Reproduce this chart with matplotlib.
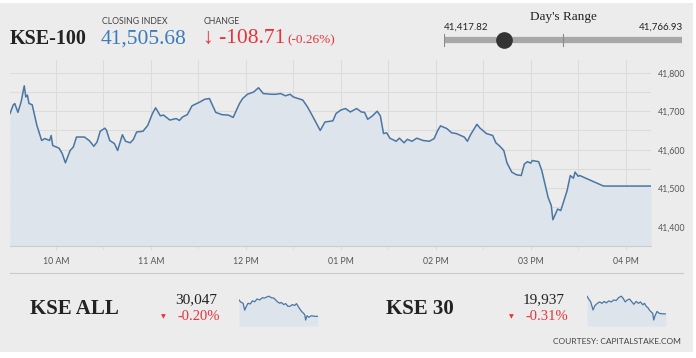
import matplotlib
matplotlib.use("Agg")
import matplotlib.pyplot as plt
import matplotlib.dates as mdates
import pandas as pd
from matplotlib.patches import Rectangle
from matplotlib.lines import Line2D

# KSE-100 intraday
kse100_times = [
    "09:31", "09:33", "09:34", "09:36", "09:38", "09:40", "09:41", "09:42", "09:43", "09:45",
    "09:48", "09:51", "09:53", "09:56", "09:57", "09:58", "10:02", "10:04", "10:06", "10:09",
    "10:11", "10:13", "10:18", "10:21", "10:24", "10:26", "10:28", "10:31", "10:32", "10:34",
    "10:37", "10:39", "10:42", "10:44", "10:47", "10:49", "10:51", "10:55", "10:58", "11:01",
    "11:03", "11:06", "11:08", "11:12", "11:16", "11:18", "11:20", "11:23", "11:26", "11:29",
    "11:31", "11:34", "11:37", "11:41", "11:45", "11:49", "11:52", "11:56", "11:58", "12:01",
    "12:05", "12:08", "12:11", "12:16", "12:19", "12:22", "12:25", "12:28", "12:30", "12:36",
    "12:39", "12:43", "12:47", "12:50", "12:55", "12:57", "13:00", "13:03", "13:06", "13:10",
    "13:13", "13:15", "13:17", "13:20", "13:23", "13:25", "13:27", "13:29", "13:31", "13:35",
    "13:37", "13:40", "13:42", "13:45", "13:48", "13:52", "13:56", "13:59", "14:01", "14:03",
    "14:07", "14:10", "14:13", "14:18", "14:20", "14:22", "14:26", "14:28", "14:32", "14:36",
    "14:38", "14:40", "14:43", "14:45", "14:48", "14:51", "14:54", "14:56", "14:58", "15:00",
    "15:01", "15:05", "15:07", "15:09", "15:11", "15:13", "15:14", "15:17", "15:19", "15:21",
    "15:23", "15:25", "15:27", "15:28", "15:30", "15:31", "15:46", "16:16",
]
kse100_values = [
    41694, 41716, 41720, 41697, 41724, 41766, 41737, 41742, 41720, 41717,
    41663, 41624, 41629, 41624, 41637, 41611, 41604, 41590, 41566, 41598,
    41607, 41633, 41633, 41624, 41609, 41620, 41648, 41656, 41650, 41624,
    41616, 41598, 41639, 41622, 41618, 41627, 41646, 41648, 41663, 41694,
    41709, 41688, 41690, 41677, 41681, 41676, 41685, 41691, 41714, 41720,
    41724, 41731, 41733, 41697, 41691, 41690, 41684, 41720, 41733, 41744,
    41750, 41761, 41746, 41744, 41744, 41746, 41740, 41744, 41737, 41729,
    41711, 41681, 41650, 41672, 41675, 41694, 41703, 41707, 41698, 41707,
    41698, 41697, 41679, 41688, 41700, 41688, 41642, 41644, 41630, 41622,
    41630, 41618, 41627, 41622, 41630, 41624, 41622, 41629, 41648, 41662,
    41655, 41644, 41642, 41633, 41622, 41639, 41666, 41656, 41642, 41637,
    41618, 41611, 41598, 41566, 41542, 41535, 41533, 41563, 41569, 41565,
    41572, 41569, 41546, 41511, 41476, 41455, 41418, 41446, 41442, 41468,
    41494, 41533, 41526, 41542, 41531, 41533, 41505.68, 41505.68,
]

closing = 41505.68
change = -108.71
change_pct = -0.26
day_low = 41417.82
day_high = 41766.93

# sparklines: minutes after 09:00
kse_all_minutes = [33, 40, 54, 62, 71, 79, 91, 101, 113, 125, 139, 152, 164, 173, 186, 198, 210,
                   220, 229, 241, 249, 261, 271, 283, 295, 305, 317, 326, 334, 343, 351, 360,
                   368, 373, 380, 390, 402, 419, 436]
kse_all_values = [30100, 30094, 30089, 30067, 30080, 30089, 30087, 30097, 30094, 30103, 30100,
                  30107, 30106, 30109, 30112, 30107, 30106, 30100, 30094, 30089, 30092, 30085,
                  30088, 30079, 30080, 30085, 30082, 30088, 30080, 30071, 30064, 30058, 30053,
                  30035, 30049, 30044, 30049, 30047, 30047]
kse30_minutes = [31, 40, 50, 62, 71, 84, 96, 108, 118, 130, 142, 156, 167, 181, 193, 207, 217,
                 227, 237, 249, 261, 271, 283, 295, 305, 317, 326, 334, 343, 351, 360, 368,
                 373, 380, 390, 402, 419, 436]
kse30_values = [19974, 19968, 19962, 19945, 19954, 19959, 19962, 19959, 19963, 19960, 19964,
                19962, 19966, 19965, 19971, 19974, 19969, 19962, 19966, 19968, 19962, 19957,
                19963, 19959, 19962, 19956, 19959, 19953, 19950, 19945, 19941, 19938, 19924,
                19933, 19942, 19938, 19937, 19937]

summary = [
    ("KSE ALL", "30,047", "-0.20%", kse_all_minutes, kse_all_values),
    ("KSE 30", "19,937", "-0.31%", kse30_minutes, kse30_values),
]

W, H = 696, 358
BG = "#ececec"
LINE = "#4a76a3"
FILL = "#dde4ec"
GRID = "#dcdcdc"
RED = "#e5333a"
BLUE = "#3b7abb"
DARK = "#222222"
SERIF = ["Liberation Serif", "DejaVu Sans"]
SANS = ["Lato", "DejaVu Sans"]

fig = plt.figure(figsize=(W / 100, H / 100), dpi=100, facecolor="white")


def px(x, y):
    return x / W, 1 - y / H


def txt(x, y, s, **kw):
    fx, fy = px(x, y)
    fig.text(fx, fy, s, **kw)


fig.patches.append(Rectangle(px(0, 352), 693 / W, 349 / H, transform=fig.transFigure,
                             facecolor=BG, edgecolor="none", zorder=-10))

# header
txt(10, 39, "KSE-100", family=SERIF, fontsize=14.5, fontweight="bold", color=DARK, va="center")
txt(102, 21, "CLOSING INDEX", family=SANS, fontsize=6.3, color="#444444", va="center")
txt(101, 39, f"{closing:,.2f}", family=SERIF, fontsize=15.5, color=BLUE, va="center")
txt(204, 21, "CHANGE", family=SANS, fontsize=6.3, color="#444444", va="center")
txt(203, 39, f"\u2193 {change:,.2f}", family=SERIF, fontsize=15.5, color=RED, va="center")
txt(287, 40, f"({change_pct:.2f}%)", family=SERIF, fontsize=9.5, color=RED, va="center")

# day's range
txt(563, 17, "Day's Range", family=SERIF, fontsize=9.5, color=DARK, ha="center", va="center")
txt(444, 27, f"{day_low:,.2f}", family=SANS, fontsize=7, color=DARK, va="center")
txt(683, 27, f"{day_high:,.2f}", family=SANS, fontsize=7, color=DARK, va="center", ha="right")
rng = fig.add_axes([444 / W, 1 - 48 / H, 238 / W, 16 / H])
rng.set_xlim(day_low, day_high)
rng.set_ylim(-1, 1)
rng.axis("off")
rng.plot([day_low, day_high], [0, 0], color="#a8a8a8", lw=4.5, solid_capstyle="butt")
for v in [day_low, (day_low + day_high) / 2, day_high]:
    rng.plot([v, v], [-0.75, 0.75], color="#8a8a8a", lw=0.8)
rng.plot([closing], [0], "o", color="#333333", ms=11)

# main chart
ax = fig.add_axes([10 / W, 1 - 246 / H, 641 / W, 186 / H])
ax.set_facecolor(BG)
t = pd.to_datetime(["2018-01-01 " + s for s in kse100_times])
ymin, ymax = 41350, 41833
ax.fill_between(t, kse100_values, ymin, color=FILL, lw=0)
ax.plot(t, kse100_values, color=LINE, lw=1.1)
ax.set_xlim(t[0], t[-1])
ax.set_ylim(ymin, ymax)
ax.yaxis.tick_right()
ax.set_yticks(range(41400, 41801, 100))
ax.set_yticks(range(41350, 41801, 50), minor=True)
ax.yaxis.set_major_formatter(matplotlib.ticker.FuncFormatter(lambda v, p: f"{v:,.0f}"))
ax.xaxis.set_major_locator(mdates.HourLocator(byhour=range(10, 17)))
ax.xaxis.set_minor_locator(mdates.MinuteLocator(byminute=[30]))
ax.xaxis.set_major_formatter(mdates.DateFormatter("%I %p"))
ax.grid(True, which="both", color=GRID, lw=0.8)
ax.set_axisbelow(True)
ax.tick_params(axis="y", which="both", length=0, pad=5, labelsize=6.3, labelcolor="#555555")
ax.tick_params(axis="x", which="both", length=3, color=GRID, pad=5, labelsize=6.3,
               labelcolor="#555555")
for lab in ax.get_xticklabels() + ax.get_yticklabels():
    lab.set_family(SANS)
for side in ["top", "left", "right"]:
    ax.spines[side].set_visible(False)
ax.spines["bottom"].set_color("#cccccc")

# separator
fig.add_artist(Line2D([10 / W, 683 / W], [1 - 273 / H, 1 - 273 / H], color="#c9c9c9", lw=0.8,
                      transform=fig.transFigure))

# bottom summary
offsets = [0, 348]
for (name, last, pct, mins, vals), dx in zip(summary, offsets):
    tx = 30 if dx == 0 else 386
    txt(tx, 309, name, family=SERIF, fontsize=15, fontweight="bold", color=DARK, va="center")
    txt(217 + dx, 300, last, family=SERIF, fontsize=11, color=DARK, va="center", ha="right")
    txt(220 + dx, 316, pct, family=SERIF, fontsize=10.5, color=RED, va="center", ha="right")
    txt(163 + dx, 317, "\u25bc", family=["DejaVu Sans"], fontsize=4.5, color=RED,
        va="center", ha="center")
    sp = fig.add_axes([(239 + dx) / W, 1 - 326 / H, 79 / W, 31 / H])
    lo = min(vals) - (max(vals) - min(vals)) * 0.25
    sp.fill_between(mins, vals, lo, color=FILL, lw=0)
    sp.plot(mins, vals, color=LINE, lw=0.9)
    sp.set_xlim(mins[0], mins[-1])
    sp.set_ylim(lo, max(vals) + (max(vals) - min(vals)) * 0.05)
    sp.axis("off")

txt(681, 342, "COURTESY: CAPITALSTAKE.COM", family=SANS, fontsize=6, color="#444444",
    va="center", ha="right")

fig.savefig("out.png", dpi=100, facecolor=fig.get_facecolor())
